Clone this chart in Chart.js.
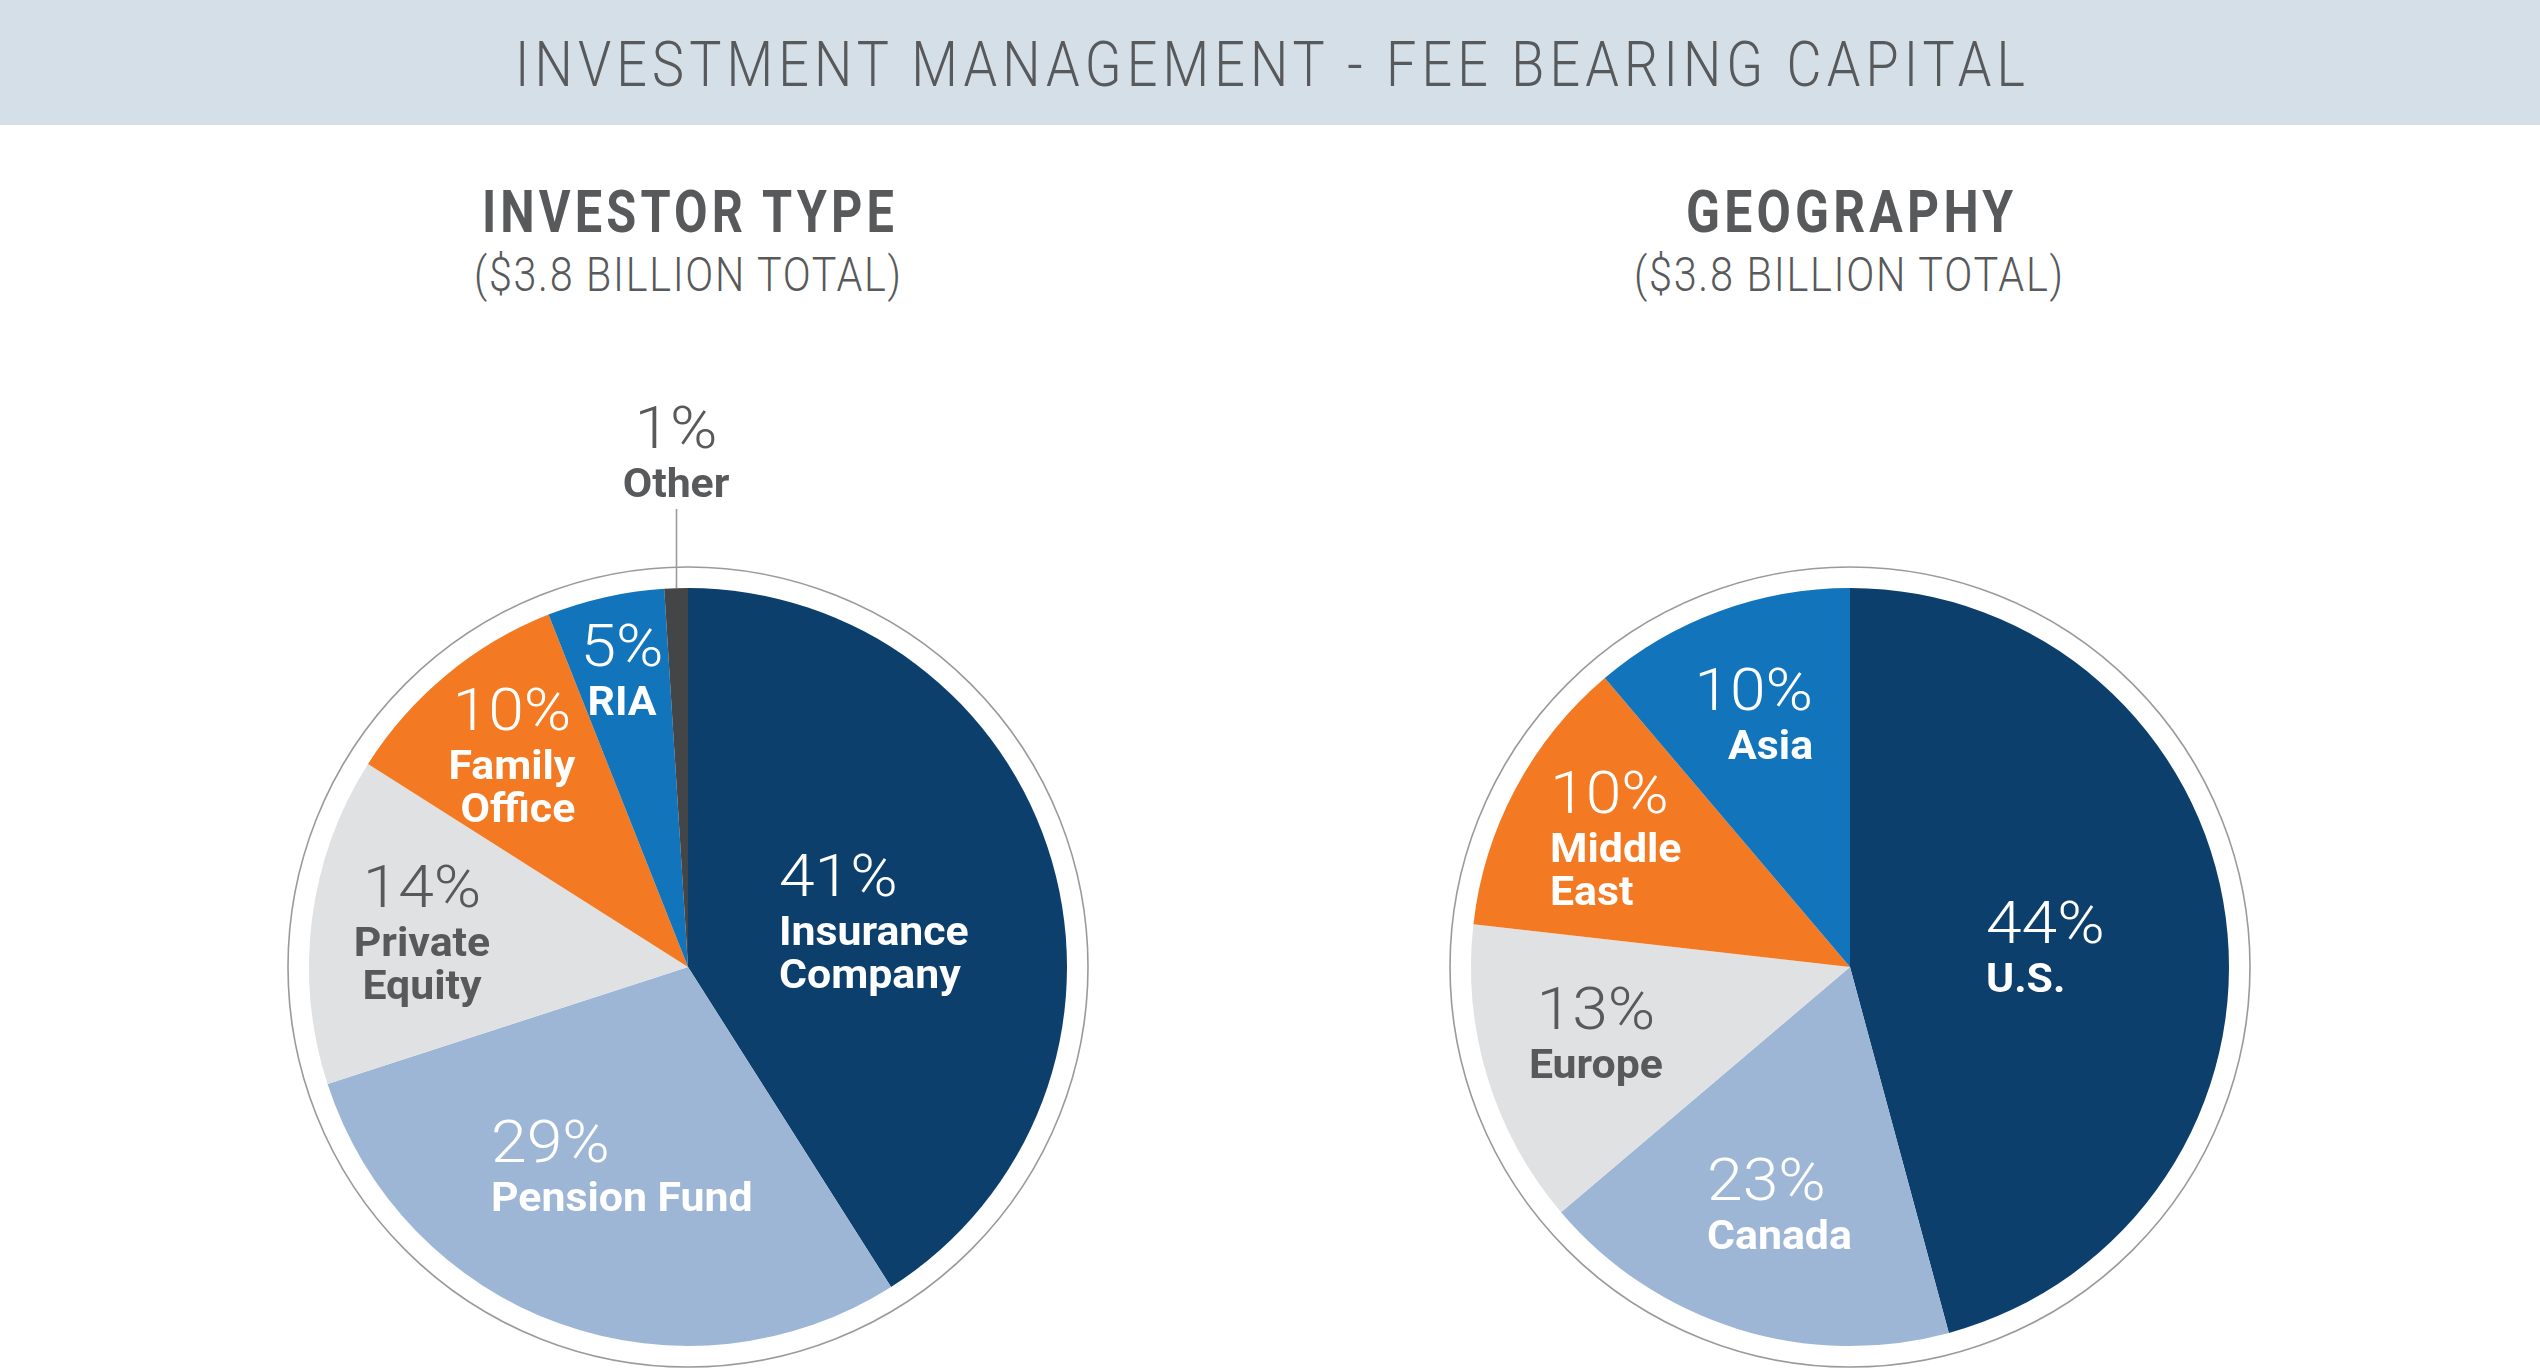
<!DOCTYPE html>
<html><head><meta charset="utf-8">
<script src="https://cdn.jsdelivr.net/npm/chart.js@4.4.1/dist/chart.umd.min.js"></script>
<style>
html,body{margin:0;padding:0;background:#fff;width:2540px;height:1368px;overflow:hidden;font-family:Roboto, sans-serif;}
#band{position:absolute;left:0;top:0;width:2540px;height:125px;background:#d5dfe8;}
.txt{position:absolute;white-space:nowrap;color:#58595b;transform-origin:0 0;margin:0;padding:0;}
canvas{position:absolute;top:125px;}
#c1{left:88px;}
#c2{left:1250px;}
</style></head><body>
<div id="band"></div>
<h1 class="txt" id="mainTitle"></h1>
<h2 class="txt" id="t1"></h2>
<div class="txt" id="s1"></div>
<h2 class="txt" id="t2"></h2>
<div class="txt" id="s2"></div>
<canvas id="c1" width="1200" height="1243"></canvas>
<canvas id="c2" width="1200" height="1243"></canvas>
<script>
// ---------- data ----------
const mainTitle = 'INVESTMENT MANAGEMENT - FEE BEARING CAPITAL';
const investorTitle = 'INVESTOR TYPE';
const investorSubtitle = '($3.8 BILLION TOTAL)';
const geographyTitle = 'GEOGRAPHY';
const geographySubtitle = '($3.8 BILLION TOTAL)';

const investorCategories = ['Insurance Company', 'Pension Fund', 'Private Equity', 'Family Office', 'RIA', 'Other'];
const investorShares = [41, 29, 14, 10, 5, 1];
const investorPctLabels = ['41%', '29%', '14%', '10%', '5%', '1%'];
const investorNameLines = [['Insurance', 'Company'], ['Pension Fund'], ['Private', 'Equity'], ['Family', 'Office'], ['RIA'], ['Other']];

const geographyCategories = ['U.S.', 'Canada', 'Europe', 'Middle East', 'Asia'];
const geographyShares = [44, 23, 13, 10, 10];           // printed percentages
const geographySliceSizes = [45.8, 18.0, 13.0, 12.0, 11.2]; // slice sizes as drawn in the picture
const geographyPctLabels = ['44%', '23%', '13%', '10%', '10%'];
const geographyNameLines = [['U.S.'], ['Canada'], ['Europe'], ['Middle', 'East'], ['Asia']];

// ---------- styles ----------
const TEXT_GRAY = '#58595b';
const investorColors = ['#0d3f6c', '#9eb6d5', '#e0e1e3', '#f37a23', '#1275bc', '#444547'];
const geographyColors = ['#0d3f6c', '#9eb6d5', '#e0e1e3', '#f37a23', '#1275bc'];
const investorLabelStyles = [
  {t: 0.3525, rr: 0.3045, align: 'left', color: '#fff', shift: 0},
  {t: 0.744, rr: 0.7314, align: 'left', color: '#fff', shift: 0},
  {t: 0.609, rr: 0.7195, align: 'center', color: TEXT_GRAY, shift: 0},
  {t: 0.583, rr: 0.779, align: 'center', color: '#fff', shift: 6},
  {t: 0.513, rr: 0.813, align: 'center', color: '#fff', shift: 0},
  {t: 0.633, rr: 1.3697, align: 'center', color: TEXT_GRAY, shift: 0, leader: true}
];
const geographyLabelStyles = [
  {t: 0.485, rr: 0.3644, align: 'left', color: '#fff', shift: 0},
  {t: 0.720, rr: 0.7213, align: 'left', color: '#fff', shift: 0},
  {t: 0.569, rr: 0.690, align: 'center', color: TEXT_GRAY, shift: 0},
  {t: 0.479, rr: 0.8897, align: 'left', color: '#fff', shift: 0},
  {t: 0.797, rr: 0.685, align: 'right', color: '#fff', shift: 0}
];

// ---------- header text placement ----------
const mctx = document.createElement('canvas').getContext('2d');
function placeText(id, text, weight, size, ls, centerX, baselineY, targetWidth) {
  const el = document.getElementById(id);
  el.textContent = text;
  const font = weight + ' ' + size + 'px Roboto';
  mctx.font = font;
  const m = mctx.measureText(text);
  const asc = m.fontBoundingBoxAscent, desc = m.fontBoundingBoxDescent;
  el.style.font = font;
  el.style.letterSpacing = ls + 'px';
  el.style.lineHeight = (asc + desc) + 'px';
  el.style.display = 'inline-block';
  const w = el.getBoundingClientRect().width - ls;
  const k = targetWidth / w;
  el.style.left = (centerX - targetWidth / 2) + 'px';
  el.style.top = (baselineY - asc) + 'px';
  el.style.transform = 'scaleX(' + k + ')';
}
placeText('mainTitle', mainTitle, 300, 63, 6, 1270, 86, 1510);
placeText('t1', investorTitle, 700, 59, 5, 688, 232, 412);
placeText('s1', investorSubtitle, 300, 48, 2, 687, 291, 427);
placeText('t2', geographyTitle, 700, 59, 5, 1849, 232, 327);
placeText('s2', geographySubtitle, 300, 48, 2, 1848, 291, 429);

// ---------- plugin: ring + labels ----------
const PCT_SX = 1.07, NAME_SX = 1.07;
function drawStretched(ctx, text, x, y, align, sx) {
  ctx.save();
  ctx.translate(x, y);
  ctx.scale(sx, 1);
  ctx.textAlign = align;
  ctx.fillText(text, 0, 0);
  ctx.restore();
}
const pieDecor = {
  id: 'pieDecor',
  afterDatasetsDraw(chart, args, opts) {
    const ctx = chart.ctx;
    const meta = chart.getDatasetMeta(0);
    const p0 = meta.data[0].getProps(['x', 'y', 'outerRadius'], true);
    const cx = p0.x, cy = p0.y, R = p0.outerRadius;
    ctx.save();
    ctx.beginPath();
    ctx.arc(cx, cy, R + 21, 0, Math.PI * 2);
    ctx.strokeStyle = '#9a9a9a';
    ctx.lineWidth = 1.6;
    ctx.stroke();
    ctx.textBaseline = 'alphabetic';
    meta.data.forEach((arc, i) => {
      const st = opts.styles[i];
      const p = arc.getProps(['startAngle', 'endAngle'], true);
      const a = p.startAngle + st.t * (p.endAngle - p.startAngle);
      const ax = cx + Math.cos(a) * R * st.rr;
      const ay = cy + Math.sin(a) * R * st.rr;
      ctx.fillStyle = st.color;
      ctx.font = '300 60px Roboto';
      drawStretched(ctx, opts.pct[i], ax, ay, st.align, PCT_SX);
      ctx.font = '700 40px Roboto';
      const lines = opts.names[i];
      for (let j = 0; j < lines.length; j++) {
        const lx = j > 0 ? ax + st.shift : ax;
        const ly = ay + 49 + j * 43;
        drawStretched(ctx, lines[j], lx, ly, st.align, NAME_SX);
      }
      if (st.leader) {
        const lx = Math.round(ax) + 0.5;
        ctx.beginPath();
        ctx.moveTo(lx, ay + 49 + 12);
        ctx.lineTo(lx, cy - R);
        ctx.strokeStyle = '#9a9a9a';
        ctx.lineWidth = 1.6;
        ctx.stroke();
      }
    });
    ctx.restore();
  }
};

function makePie(id, labels, values, colors, pct, names, styles) {
  return new Chart(document.getElementById(id), {
    type: 'pie',
    data: {labels: labels, datasets: [{data: values, backgroundColor: colors, borderWidth: 0, hoverOffset: 0}]},
    options: {
      responsive: false,
      animation: false,
      events: [],
      layout: {padding: {left: 221, right: 221, top: 463, bottom: 22}},
      plugins: {legend: {display: false}, tooltip: {enabled: false},
        pieDecor: {pct: pct, names: names, styles: styles}}
    },
    plugins: [pieDecor]
  });
}
makePie('c1', investorCategories, investorShares, investorColors, investorPctLabels, investorNameLines, investorLabelStyles);
makePie('c2', geographyCategories, geographySliceSizes, geographyColors, geographyPctLabels, geographyNameLines, geographyLabelStyles);
</script>
</body></html>
